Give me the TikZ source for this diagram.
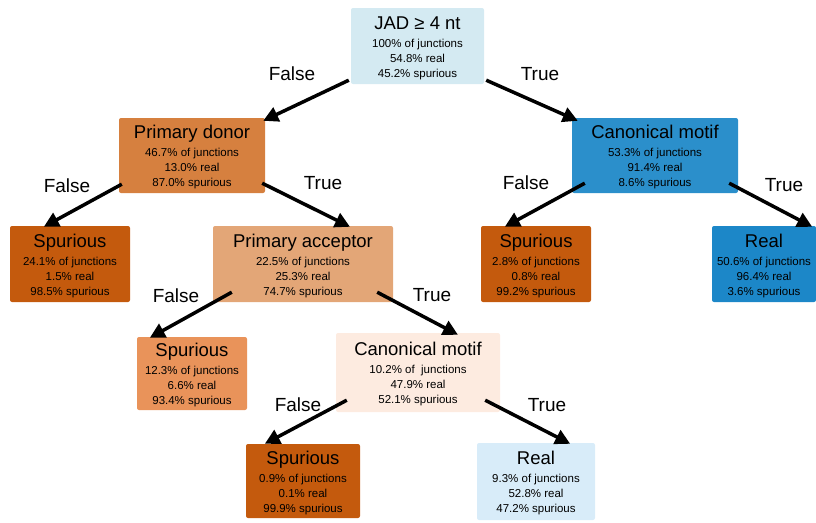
\documentclass[tikz,border=0pt]{standalone}
\usepackage{fontspec}
\setmainfont{Liberation Sans}
\usetikzlibrary{arrows.meta}
\definecolor{rootfill}{HTML}{D4EAF2}
\definecolor{donorfill}{HTML}{D6803F}
\definecolor{canonfill}{HTML}{2B8FCB}
\definecolor{spurfill}{HTML}{C45A0D}
\definecolor{accfill}{HTML}{E3A677}
\definecolor{spurlight}{HTML}{E9935A}
\definecolor{canonpale}{HTML}{FDEBE0}
\definecolor{realfill}{HTML}{1C87C8}
\definecolor{realpale}{HTML}{D8ECF9}
\newcommand{\splitname}[1]{{\fontsize{18.5}{18}\selectfont\rule{0pt}{17pt}#1}\\[3pt]}

\begin{document}
\begin{tikzpicture}[x=1pt,y=-1pt,font=\fontsize{11.5}{15}\selectfont,
  box/.style={rounded corners=2pt,align=center,inner sep=0pt,minimum height=76pt},
  edge/.style={line width=3.5pt,-{Triangle[length=15pt,width=15pt]}},
  lbl/.style={font=\fontsize{19}{19}\selectfont}]
  \useasboundingbox (0,0) rectangle (816,522);
  \node[box,fill=rootfill,minimum width=133pt] (root) at (417.5,46) {\splitname{JAD ≥ 4 nt}100\% of junctions\\54.8\% real\\45.2\% spurious};
  \node[box,fill=donorfill,minimum width=146pt,minimum height=75pt] (don) at (192,155.5) {\splitname{Primary donor}46.7\% of junctions\\13.0\% real\\87.0\% spurious};
  \node[box,fill=canonfill,minimum width=166pt,minimum height=75pt] (can1) at (655,155.5) {\splitname{Canonical motif}53.3\% of junctions\\91.4\% real\\8.6\% spurious};
  \node[box,fill=spurfill,minimum width=120pt] (sp1) at (70,264) {\splitname{Spurious}24.1\% of junctions\\1.5\% real\\98.5\% spurious};
  \node[box,fill=accfill,minimum width=180pt] (acc) at (303,264) {\splitname{Primary acceptor}22.5\% of junctions\\25.3\% real\\74.7\% spurious};
  \node[box,fill=spurfill,minimum width=110pt] (sp2) at (536,264) {\splitname{Spurious}2.8\% of junctions\\0.8\% real\\99.2\% spurious};
  \node[box,fill=realfill,minimum width=104pt] (re1) at (764,264) {\splitname{Real}50.6\% of junctions\\96.4\% real\\3.6\% spurious};
  \node[box,fill=spurlight,minimum width=110pt,minimum height=73pt] (sp3) at (192,373.5) {\splitname{Spurious}12.3\% of junctions\\6.6\% real\\93.4\% spurious};
  \node[box,fill=canonpale,minimum width=164pt,minimum height=79pt] (can2) at (418,372.5) {\splitname{Canonical motif}10.2\% of\ \ junctions\\47.9\% real\\52.1\% spurious};
  \node[box,fill=spurfill,minimum width=114pt,minimum height=74pt] (sp4) at (303,481) {\splitname{Spurious}0.9\% of junctions\\0.1\% real\\99.9\% spurious};
  \node[box,fill=realpale,minimum width=118pt,minimum height=77pt] (re2) at (536,481.5) {\splitname{Real}9.3\% of junctions\\52.8\% real\\47.2\% spurious};
  \draw[edge] ([shift={(-2,-4)}]root.south west) -- ([shift={(-2,3)}]don.north east);
  \draw[edge] ([shift={(2,-4)}]root.south east) -- ([shift={(6,3)}]can1.north west);
  \draw[edge] ([shift={(3,-9)}]don.south west) -- ([shift={(34,1)}]sp1.north west);
  \draw[edge] ([shift={(-3,-10)}]don.south east) -- ([shift={(47,1)}]acc.north);
  \draw[edge] ([shift={(13,-10)}]can1.south west) -- ([shift={(24,1)}]sp2.north west);
  \draw[edge] ([shift={(-9,-10)}]can1.south east) -- ([shift={(-4,1)}]re1.north east);
  \draw[edge] ([shift={(19,-10)}]acc.south west) -- ([shift={(13,1)}]sp3.north west);
  \draw[edge] ([shift={(-16,-10)}]acc.south east) -- ([shift={(40,2)}]can2.north);
  \draw[edge] ([shift={(11,-12)}]can2.south west) -- ([shift={(19,0)}]sp4.north west);
  \draw[edge] ([shift={(-15,-12)}]can2.south east) -- ([shift={(-25,1)}]re2.north east);
  \node[lbl] (f1) at (292,74) {False};
  \node[lbl] (t1) at (540,74) {True};
  \node[lbl] (f2) at (67,186) {False};
  \node[lbl] (t2) at (323,183) {True};
  \node[lbl] (f3) at (526,183) {False};
  \node[lbl] (t3) at (784,185) {True};
  \node[lbl] (f4) at (176,296) {False};
  \node[lbl] (t4) at (432,295) {True};
  \node[lbl] (f5) at (298,405) {False};
  \node[lbl] (t5) at (547,405) {True};
\end{tikzpicture}
\end{document}
